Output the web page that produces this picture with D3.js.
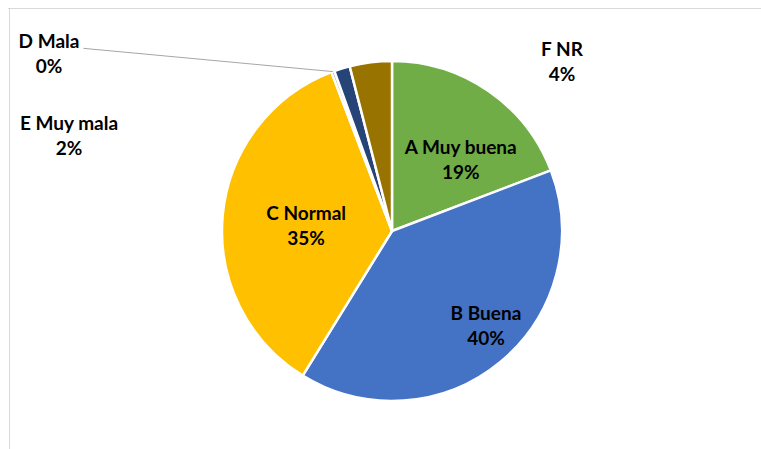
<!DOCTYPE html>
<html><head><meta charset="utf-8">
<script src="https://cdn.jsdelivr.net/npm/d3@7"></script>
<style>body{margin:0;background:#fff}svg{display:block}</style>
</head><body>
<svg id="c" width="761" height="449"></svg>
<script>
const categories = ["A Muy buena", "B Buena", "C Normal", "D Mala", "E Muy mala", "F NR"];
const values = [19.2, 39.6, 35.4, 0.3, 1.5, 4.0];
const colors = ["#70AD47", "#4472C4", "#FFC000", "#A5A5A5", "#264478", "#997300"];

const svg = d3.select("#c");
const W = 761, H = 449;
const cx = 392, cy = 231, R = 170;

// frame
svg.append("line").attr("x1", 8).attr("x2", W).attr("y1", 8.5).attr("y2", 8.5).attr("stroke", "#d9d9d9");
svg.append("line").attr("x1", 9.5).attr("x2", 9.5).attr("y1", 8).attr("y2", H).attr("stroke", "#d9d9d9");

const data = categories.map((c, i) => ({cat: c, v: values[i], col: colors[i]}));
const pie = d3.pie().value(d => d.v).sort(null);
const arcs = pie(data);
const arc = d3.arc().innerRadius(0).outerRadius(R);
const total = d3.sum(values);

const g = svg.append("g").attr("transform", `translate(${cx},${cy})`);
g.selectAll("path").data(arcs).join("path")
  .attr("d", arc).attr("fill", d => d.data.col)
  .attr("stroke", "#fff").attr("stroke-width", 2.5).attr("stroke-linejoin", "round");

// label layout: inside labels via polar offset (deg, radius), outside labels absolute block centres
const layout = {
  "A Muy buena": {polar: [44, 99]},
  "B Buena": {polar: [135.3, 133.6]},
  "C Normal": {polar: [273.3, 86]},
  "D Mala": {abs: [49, 54], leader: true},
  "E Muy mala": {abs: [69, 136]},
  "F NR": {abs: [562, 61.5]}
};
const font = "Lato, 'Open Sans', sans-serif";
const fs = 19, lh = 25;
arcs.forEach(a => {
  const L = layout[a.data.cat];
  let x, y;
  if (L.polar) {
    const ang = L.polar[0] * Math.PI / 180;
    x = cx + L.polar[1] * Math.sin(ang);
    y = cy - L.polar[1] * Math.cos(ang);
  } else { x = L.abs[0]; y = L.abs[1]; }
  const base1 = y - lh / 2 + fs * 0.36;
  const t1 = svg.append("text").attr("x", x).attr("y", base1)
    .attr("text-anchor", "middle").attr("font-family", font)
    .attr("font-weight", "bold").attr("font-size", fs).attr("fill", "#000")
    .text(a.data.cat);
  svg.append("text").attr("x", x).attr("y", base1 + lh)
    .attr("text-anchor", "middle").attr("font-family", font)
    .attr("font-weight", "bold").attr("font-size", fs).attr("fill", "#000")
    .text(Math.round(a.data.v / total * 100) + "%");
  if (L.leader) {
    const bb = t1.node().getBBox();
    const mid = (a.startAngle + a.endAngle) / 2;
    const px = cx + R * Math.sin(mid), py = cy - R * Math.cos(mid);
    svg.append("line").attr("x1", bb.x + bb.width + 4).attr("y1", base1)
      .attr("x2", px).attr("y2", py).attr("stroke", "#a6a6a6").attr("stroke-width", 1);
  }
});
</script>
</body></html>
